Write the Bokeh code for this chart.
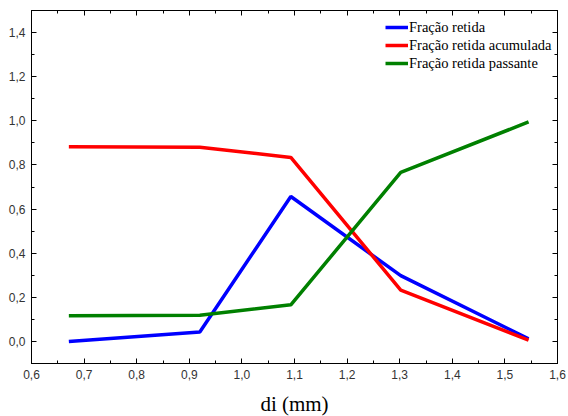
from bokeh.plotting import figure
from bokeh.models import LinearAxis, FixedTicker, Range1d, Legend, LegendItem
from bokeh.embed import file_html
from bokeh.resources import INLINE

# Data
di = [0.671, 0.920, 1.093, 1.302, 1.545]
retida = [0.0, 0.043, 0.657, 0.298, 0.012]
acumulada = [0.882, 0.880, 0.834, 0.233, 0.006]
passante = [0.116, 0.119, 0.166, 0.766, 0.995]

series_names = ["Fração retida", "Fração retida acumulada", "Fração retida passante"]
series_colors = ["#0000FF", "#FF0000", "#008000"]

x_ticks = [0.6, 0.7, 0.8, 0.9, 1.0, 1.1, 1.2, 1.3, 1.4, 1.5, 1.6]
x_minor = [0.55 + 0.05 * i for i in range(23)]
y_ticks = [0.0, 0.2, 0.4, 0.6, 0.8, 1.0, 1.2, 1.4]
y_minor = [-0.1, 0.0, 0.1, 0.2, 0.3, 0.4, 0.5, 0.6, 0.7, 0.8, 0.9, 1.0, 1.1, 1.2, 1.3, 1.4, 1.5]

x_labels = {t: f"{t:.1f}".replace(".", ",") for t in x_ticks}
y_labels = {t: f"{t:.1f}".replace(".", ",") for t in y_ticks}

p = figure(frame_width=526, frame_height=353, output_backend="svg", toolbar_location=None,
           x_range=Range1d(0.6, 1.6), y_range=Range1d(-0.1, 1.5),
           min_border_left=31, min_border_top=10, min_border_right=9, min_border_bottom=45,
           x_axis_label="di (mm)")
p.background_fill_color = "white"
p.border_fill_color = "white"
p.outline_line_color = "black"
p.xgrid.visible = False
p.ygrid.visible = False

def style_axis(ax, ticks, minor, labels, show_labels=True):
    ax.ticker = FixedTicker(ticks=ticks, minor_ticks=minor)
    ax.major_tick_in = 5
    ax.major_tick_out = 0
    ax.minor_tick_in = 3
    ax.minor_tick_out = 0
    ax.axis_line_color = "black"
    ax.major_tick_line_color = "black"
    ax.minor_tick_line_color = "black"
    if show_labels:
        ax.major_label_overrides = labels
        ax.major_label_text_font = "Liberation Sans"
        ax.major_label_text_font_size = "12px"
        ax.major_label_text_color = "#333333"
        ax.major_label_standoff = 6
    else:
        ax.major_label_overrides = {t: "" for t in ticks}
        ax.major_label_standoff = 0

style_axis(p.xaxis[0], x_ticks, x_minor, x_labels)
style_axis(p.yaxis[0], y_ticks, y_minor, y_labels)
p.xaxis.axis_label_text_font = "Liberation Serif"
p.xaxis.axis_label_text_font_style = "normal"
p.xaxis.axis_label_text_font_size = "21px"
p.xaxis.axis_label_standoff = 10
p.xaxis.axis_label_text_color = "black"

top_ax = LinearAxis()
style_axis(top_ax, x_ticks, x_minor, x_labels, show_labels=False)
p.add_layout(top_ax, "above")
right_ax = LinearAxis()
style_axis(right_ax, y_ticks, y_minor, y_labels, show_labels=False)
p.add_layout(right_ax, "right")

items = []
for ys, name, col in zip([retida, acumulada, passante], series_names, series_colors):
    r = p.line(di, ys, line_color=col, line_width=3.5)
    items.append(LegendItem(label=name, renderers=[r]))

legend = Legend(items=items, location=(354, 291))
legend.border_line_color = None
legend.background_fill_alpha = 0
legend.label_text_font = "Liberation Serif"
legend.label_text_font_size = "14.5px"
legend.label_text_color = "black"
legend.label_standoff = 1
legend.glyph_width = 23
legend.glyph_height = 18
legend.label_height = 18
legend.spacing = 0
legend.padding = 0
legend.margin = 0
p.add_layout(legend)

open("out.html", "w").write(file_html(p, INLINE))
